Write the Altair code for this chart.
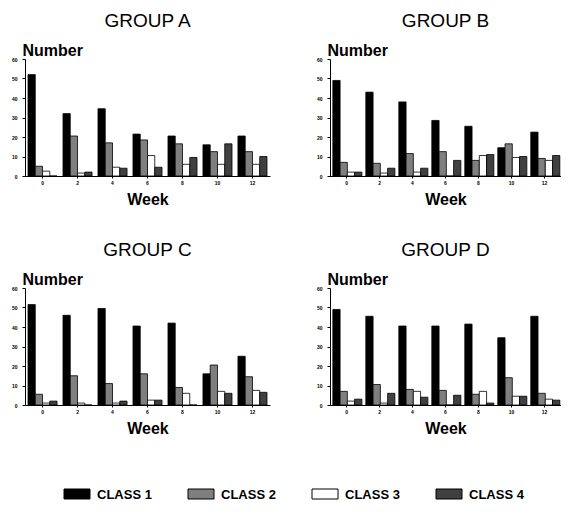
import altair as alt
import pandas as pd

weeks = [0, 2, 4, 6, 8, 10, 12]
classes = ["CLASS 1", "CLASS 2", "CLASS 3", "CLASS 4"]
groups = ["GROUP A", "GROUP B", "GROUP C", "GROUP D"]

a_c1 = [52, 32, 34.5, 21.5, 20.5, 16, 20.5]
a_c2 = [5, 20.5, 17, 18.5, 16.5, 12.5, 12.5]
a_c3 = [2.5, 1.5, 4.5, 10.5, 6, 6, 6]
a_c4 = [0, 2, 4, 4.5, 9.5, 16.5, 10]

b_c1 = [49, 43, 38, 28.5, 25.5, 14.5, 22.5]
b_c2 = [7, 6.5, 11.5, 12.5, 8, 16.5, 9]
b_c3 = [2, 1.5, 2, 0, 10.5, 9.5, 8]
b_c4 = [2, 4, 4, 8, 11, 10, 10.5]

c_c1 = [51.5, 46, 49.5, 40.5, 42, 16, 25]
c_c2 = [5.5, 15, 11, 16, 9, 20.5, 14.5]
c_c3 = [1, 1, 1, 2.5, 6, 7, 7.5]
c_c4 = [2, 0, 2, 2.5, 0, 6, 6.5]

d_c1 = [49, 45.5, 40.5, 40.5, 41.5, 34.5, 45.5]
d_c2 = [7, 10.5, 8, 7.5, 5.5, 14, 6]
d_c3 = [2, 1, 7, 0, 7, 4.5, 3]
d_c4 = [3, 6, 4, 5, 1, 4.5, 2.5]

series = {
    "GROUP A": [a_c1, a_c2, a_c3, a_c4],
    "GROUP B": [b_c1, b_c2, b_c3, b_c4],
    "GROUP C": [c_c1, c_c2, c_c3, c_c4],
    "GROUP D": [d_c1, d_c2, d_c3, d_c4],
}

rows = []
for g in groups:
    for ci, cls in enumerate(classes):
        for wi, w in enumerate(weeks):
            rows.append({"group": g, "cls": cls, "week": w, "value": series[g][ci][wi]})
df = pd.DataFrame(rows)
legend_df = pd.DataFrame({"cls": classes})

FONT = "Liberation Sans"
fills = ["#000000", "#7f7f7f", "#ffffff", "#404040"]
fill_scale = alt.Scale(domain=classes, range=fills)


def panel(g, w):
    d = df[df["group"] == g]
    return (
        alt.Chart(d)
        .mark_bar(stroke="black", strokeWidth=0.8)
        .encode(
            x=alt.X(
                "week:O",
                scale=alt.Scale(paddingInner=0.17, paddingOuter=0.086),
                axis=alt.Axis(
                    title="Week", labelAngle=0, labelFontSize=5, labelFontWeight="bold",
                    labelColor="black", titleColor="black",
                    tickSize=2, labelPadding=2, titleFontSize=16, titleFontWeight="bold",
                    titlePadding=6, domainColor="black", tickColor="black",
                ),
            ),
            xOffset=alt.XOffset("cls:N", scale=alt.Scale(domain=classes, paddingInner=0, paddingOuter=0)),
            y=alt.Y(
                "value:Q",
                scale=alt.Scale(domain=[0, 60], nice=False),
                axis=alt.Axis(
                    title="Number", values=[0, 10, 20, 30, 40, 50, 60], grid=False,
                    labelFontSize=5, labelFontWeight="bold", labelColor="black", titleColor="black",
                    tickSize=3, labelPadding=5,
                    titleAngle=0, titleX=-3, titleY=-4, titleAlign="left",
                    titleBaseline="alphabetic", titleFontSize=16, titleFontWeight="bold",
                    domainColor="black", tickColor="black",
                ),
            ),
            fill=alt.Fill("cls:N", scale=fill_scale, legend=None),
        )
        .properties(
            width=w, height=117,
            title=alt.TitleParams(g, fontSize=19, fontWeight="normal", offset=11, anchor="middle", color="black"),
        )
    )


legend_x = alt.X("cls:N", scale=alt.Scale(domain=classes, range=[39, 535], paddingInner=0, paddingOuter=0), axis=None)
legend_sw = (
    alt.Chart(legend_df)
    .mark_bar(size=26, xOffset=-49, stroke="black", strokeWidth=1)
    .encode(x=legend_x, y=alt.value(0), y2=alt.value(10), fill=alt.Fill("cls:N", scale=fill_scale, legend=None))
)
legend_tx = (
    alt.Chart(legend_df)
    .mark_text(align="left", baseline="middle", dx=-29, fontSize=13, fontWeight="bold", color="black")
    .encode(x=legend_x, y=alt.value(5.5), text="cls:N")
)
legend = alt.layer(legend_sw, legend_tx).properties(width=530, height=10)

top = alt.hconcat(panel("GROUP A", 245), panel("GROUP B", 231), spacing=46)
bottom = alt.hconcat(panel("GROUP C", 245), panel("GROUP D", 231), spacing=46)
chart = (
    alt.vconcat(alt.vconcat(top, bottom, spacing=34), legend, spacing=52)
    .properties(padding={"left": 3, "top": 4, "right": 0, "bottom": 0})
    .configure(font=FONT)
    .configure_view(stroke=None)
)

chart.save("out.html", embed_options={"renderer": "svg", "actions": False})
